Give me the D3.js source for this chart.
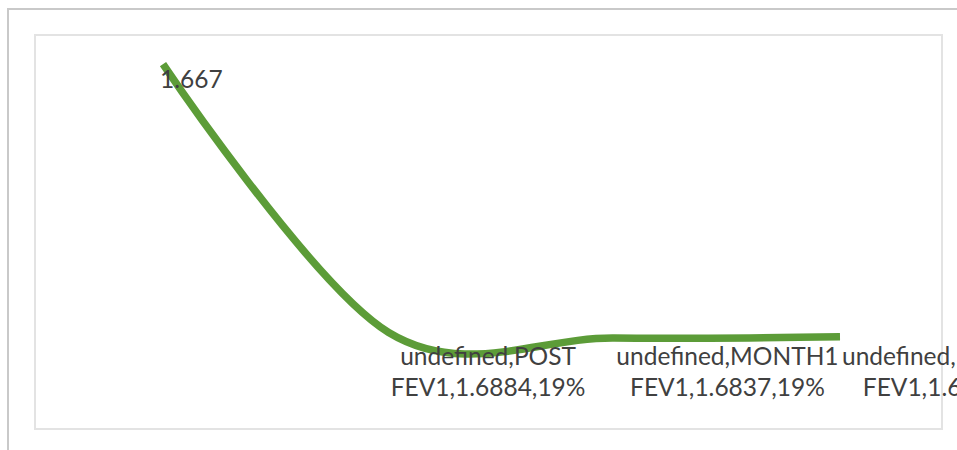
<html>
<head>
<script src="https://d3js.org/d3.v7.min.js"></script>
<style>
  body { margin: 0; background: #fff; }
  svg { display: block; }
  .lbl { font-family: Lato, "Open Sans", sans-serif; font-size: 24.5px; fill: #404040; }
</style>
</head>
<body>
<svg width="957" height="450"></svg>
<script>
// data
var seriesName = "undefined";
var categories = ["PRE FEV1", "POST FEV1", "MONTH1 FEV1", "MONTH3 FEV1"];
var labelValues = [1.667, 1.6884, 1.6837, 1.683];
var percents = [null, "19%", "19%", "19%"];
// plotted heights (chart units, axis hidden)
var plotted = [9.26, 2.45, 2.31, 2.34];

var svg = d3.select("svg");

// outer chart border (runs off to the right/bottom)
svg.append("rect")
  .attr("x", 8).attr("y", 9)
  .attr("width", 1000).attr("height", 500)
  .attr("fill", "none").attr("stroke", "#c9c9c9").attr("stroke-width", 2);

// plot area
var plot = { left: 35, top: 35, right: 942, bottom: 429 };
svg.append("rect")
  .attr("x", plot.left).attr("y", plot.top)
  .attr("width", plot.right - plot.left).attr("height", plot.bottom - plot.top)
  .attr("fill", "none").attr("stroke", "#e3e3e3").attr("stroke-width", 2);

var x = d3.scalePoint().domain(categories).range([163, 840]);
var y = d3.scaleLinear().domain([0, 10]).range([plot.bottom, plot.top]);

var line = d3.line()
  .x(function(d, i) { return x(categories[i]); })
  .y(function(d) { return y(d); })
  .curve(d3.curveCardinal.tension(0));

svg.append("path")
  .datum(plotted)
  .attr("d", line)
  .attr("fill", "none")
  .attr("stroke", "#5c9c38")
  .attr("stroke-width", 7.5)
  .attr("stroke-linecap", "butt");

// data labels
var labels = svg.append("g");
categories.forEach(function(c, i) {
  var px = x(c);
  if (percents[i] == null) {
    labels.append("text").attr("class", "lbl")
      .attr("x", px - 3).attr("y", 88)
      .text(labelValues[i]);
    return;
  }
  var sp = c.indexOf(" ");
  var lines = [seriesName + "," + c.slice(0, sp), c.slice(sp + 1) + "," + labelValues[i] + "," + percents[i]];
  var t = labels.append("text").attr("class", "lbl").attr("text-anchor", "middle");
  var spans = lines.map(function(s, k) {
    return t.append("tspan").attr("y", 365 + k * 31).text(s);
  });
  var w = d3.max(spans, function(s) { return s.node().getComputedTextLength(); });
  spans.forEach(function(s) { s.attr("x", px + 2 + w / 2); });
});
</script>
</body>
</html>
